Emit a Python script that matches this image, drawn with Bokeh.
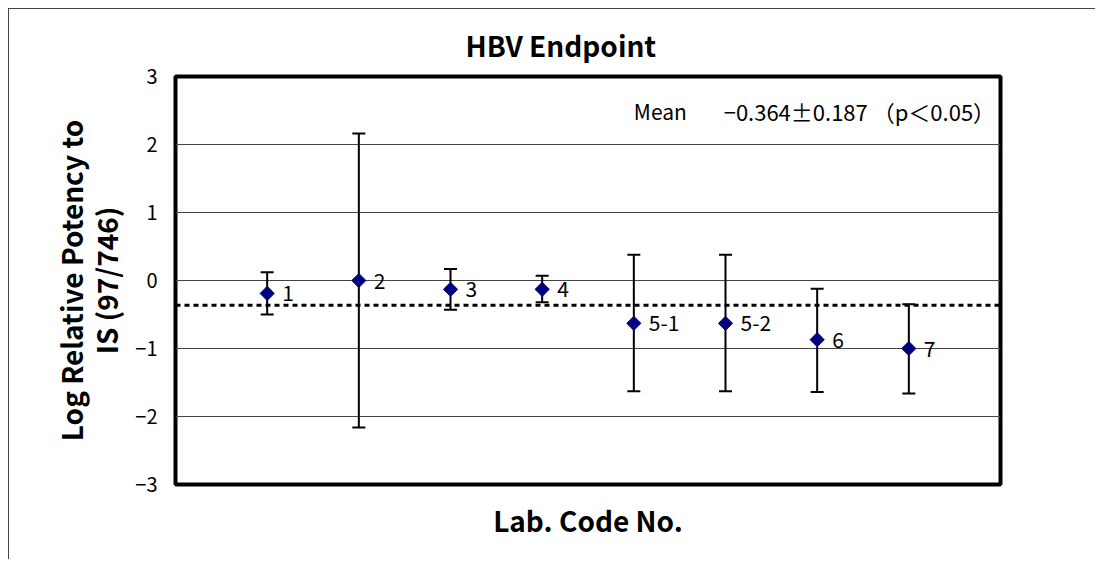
import numpy as np
from bokeh.plotting import figure
from bokeh.models import (ColumnDataSource, Whisker, TeeHead, Span, Label, LabelSet,
                          FixedTicker, Range1d, LinearAxis)
from bokeh.core.properties import value
from bokeh.embed import file_html
from bokeh.resources import INLINE

# ---- data ----
labs = ["1", "2", "3", "4", "5-1", "5-2", "6", "7"]
potency = [-0.19, 0.00, -0.13, -0.13, -0.63, -0.63, -0.87, -1.00]
upper = [0.12, 2.16, 0.17, 0.07, 0.38, 0.38, -0.12, -0.35]
lower = [-0.50, -2.16, -0.43, -0.32, -1.63, -1.63, -1.64, -1.66]
mean_value = -0.364
mean_sd = 0.187
y_ticks = [-3, -2, -1, 0, 1, 2, 3]
y_tick_labels = ["\u22123", "\u22122", "\u22121", "0", "1", "2", "3"]

FONT = "Noto Sans CJK JP"

pos = list(range(1, len(labs) + 1))
src = ColumnDataSource(dict(x=pos, y=potency, upper=upper, lower=lower, lab=labs))

p = figure(width=1087, height=551,
           x_range=Range1d(0, len(labs) + 1), y_range=Range1d(-3, 3),
           output_backend="svg", toolbar_location=None,
           min_border_left=166, min_border_right=96,
           min_border_top=67, min_border_bottom=76)
p.styles = {"margin-left": "8px", "margin-top": "8px",
            "border-left": "1px solid #444", "border-top": "1px solid #444"}
p.background_fill_color = "white"
p.border_fill_color = "white"
p.outline_line_color = "black"
p.outline_line_width = 4

# title
p.title.text = "HBV Endpoint"
p.title.align = "left"
p.title.offset = 290
p.title.text_font = FONT
p.title.text_font_style = "bold"
p.title.text_font_size = "28px"
p.title.text_color = "black"
p.title.standoff = 23

# grid
p.xgrid.visible = False
p.ygrid.ticker = FixedTicker(ticks=y_ticks)
p.ygrid.grid_line_color = "#444444"
p.ygrid.grid_line_width = 1

# y axis (tick labels + second line of the label)
p.yaxis.ticker = FixedTicker(ticks=y_ticks)
p.yaxis.major_label_overrides = {t: l for t, l in zip(y_ticks, y_tick_labels)}
p.yaxis.major_tick_out = 0
p.yaxis.major_tick_in = 0
p.yaxis.minor_tick_line_color = None
p.yaxis.axis_line_color = None
p.yaxis.major_label_standoff = 18
p.yaxis.major_label_text_font = FONT
p.yaxis.major_label_text_font_size = "20px"
p.yaxis.major_label_text_color = "black"
p.yaxis.axis_label = "IS (97/746)"
p.yaxis.axis_label_text_font = FONT
p.yaxis.axis_label_text_font_style = "bold"
p.yaxis.axis_label_text_font_size = "28px"
p.yaxis.axis_label_text_color = "black"
p.yaxis.axis_label_standoff = 6

# first line of the y label on an outer axis
ax2 = LinearAxis(ticker=FixedTicker(ticks=[]), axis_line_color=None,
                 major_tick_out=0, major_tick_in=0, minor_tick_line_color=None,
                 major_label_text_color=None,
                 axis_label="Log Relative Potency to",
                 axis_label_text_font=FONT, axis_label_text_font_style="bold",
                 axis_label_text_font_size="28px", axis_label_text_color="black",
                 axis_label_standoff=-7)
p.add_layout(ax2, "left")

# x axis
p.xaxis.ticker = FixedTicker(ticks=[])
p.xaxis.major_tick_out = 0
p.xaxis.major_tick_in = 0
p.xaxis.minor_tick_line_color = None
p.xaxis.axis_line_color = None
p.xaxis.major_label_text_color = None
p.xaxis.axis_label = "Lab. Code No."
p.xaxis.axis_label_text_font = FONT
p.xaxis.axis_label_text_font_style = "bold"
p.xaxis.axis_label_text_font_size = "28px"
p.xaxis.axis_label_text_color = "black"
p.xaxis.axis_label_standoff = 15

# mean line
mean_span = Span(location=mean_value, dimension="width", line_color="black",
                 line_width=3, line_dash="5 4", level="underlay")
p.add_layout(mean_span)

# error bars
w = Whisker(source=src, base="x", upper="upper", lower="lower",
            line_color="black", line_width=2, level="underlay",
            upper_head=TeeHead(size=13, line_width=2, line_color="black"),
            lower_head=TeeHead(size=13, line_width=2, line_color="black"))
p.add_layout(w)

# markers
p.scatter("x", "y", source=src, marker="square", angle=np.pi / 4, size=10,
          fill_color="#000080", line_color="#000080")

# point labels
p.add_layout(LabelSet(x="x", y="y", text="lab", source=src, x_offset=15,
                      text_baseline="middle", text_align="left",
                      text_font=value(FONT), text_font_size="21px",
                      text_color="black"))

# mean annotation
p.add_layout(Label(x=5.0, y=2.5, text="Mean", text_align="left",
                   text_baseline="middle", text_font=FONT,
                   text_font_size="21px", text_color="black"))
p.add_layout(Label(x=5.98, y=2.5,
                   text="\u2212%.3f\u00b1%.3f \uff08p\uff1c0.05\uff09" % (abs(mean_value), mean_sd),
                   text_align="left", text_baseline="middle", text_font=FONT,
                   text_font_size="22px", text_color="black"))

open("out.html", "w").write(file_html(p, INLINE))
